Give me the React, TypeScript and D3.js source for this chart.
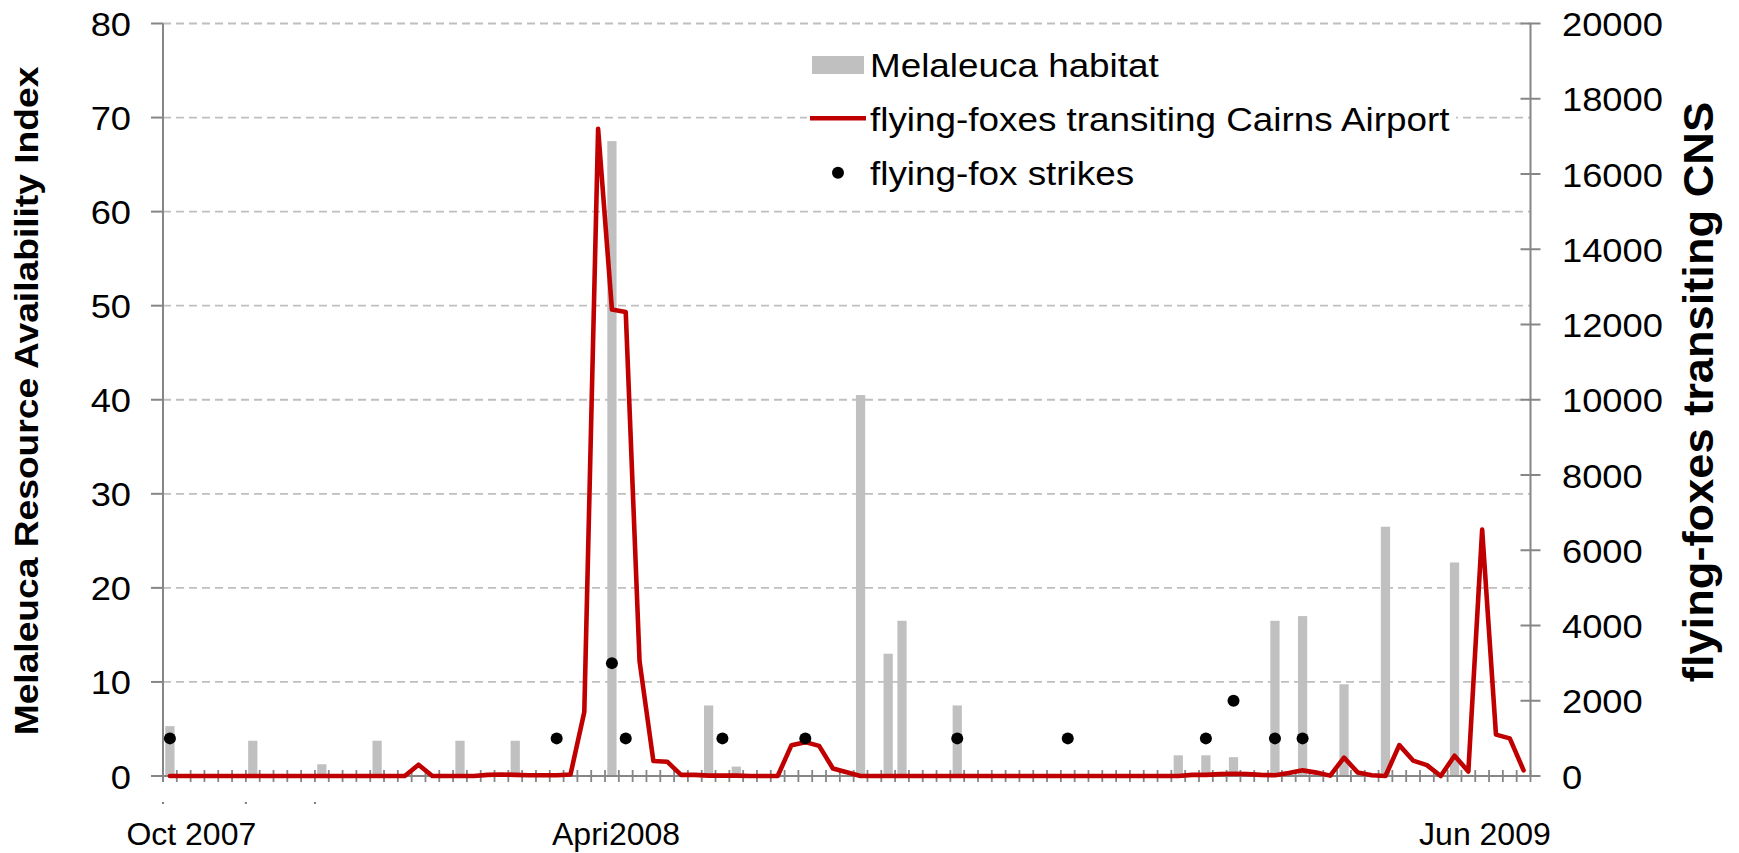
import React from 'react';
import * as d3 from 'd3';

const W = 1739;
const H = 853;

// category index of each survey period (Oct 2007 .. Jun 2009)
const periods = d3.range(99);

// Melaleuca Resource Availability Index (left axis) – bars
const habitatIdx = [0, 6, 11, 15, 21, 25, 32, 39, 41, 50, 52, 53, 57, 73, 75, 77, 80, 82, 85, 88, 93];
const habitatVal = [5.3, 3.75, 1.25, 3.75, 3.75, 3.75, 67.5, 7.5, 1.0, 40.5, 13.0, 16.5, 7.5, 2.2, 2.2, 2.0, 16.5, 17.0, 9.75, 26.5, 22.7];

// flying-foxes transiting Cairns Airport (right axis) – line
const transiting = [
  0, 0, 0, 0, 0, 0, 0, 0, 0, 0,
  0, 0, 0, 0, 0, 0, 0, 0, 300, 0,
  0, 0, 0, 30, 40, 30, 20, 20, 20, 40,
  1700, 17200, 12400, 12330, 3050, 400, 380, 30, 30, 10,
  10, 10, 0, 0, 0, 820, 900, 800, 200, 100,
  0, 0, 0, 0, 0, 0, 0, 0, 0, 0,
  0, 0, 0, 0, 0, 0, 0, 0, 0, 0,
  0, 0, 0, 0, 30, 30, 50, 60, 50, 30,
  20, 80, 150, 90, 10, 490, 90, 20, 0, 820,
  410, 290, 0, 540, 120, 6550, 1100, 1000, 150,
];

// flying-fox strikes (plotted on right axis scale)
const strikeIdx = [0, 28, 32, 33, 40, 46, 57, 65, 75, 77, 80, 82];
const strikeVal = [1000, 1000, 3000, 1000, 1000, 1000, 1000, 1000, 1000, 2000, 1000, 1000];

const leftTicks = [0, 10, 20, 30, 40, 50, 60, 70, 80];
const rightTicks = [0, 2000, 4000, 6000, 8000, 10000, 12000, 14000, 16000, 18000, 20000];

const xLabels = ['Oct 2007', 'Apri2008', 'Jun 2009'];
const xLabelPos = [2.05, 32.8, 95.7];
const stubMarks = [0, 6, 11];

const legendLabels = ['Melaleuca habitat', 'flying-foxes transiting Cairns Airport', 'flying-fox strikes'];

const FONT = 'Liberation Sans, Arial, Helvetica, sans-serif';
const AXIS = '#868686';
const GRID = '#BFBFBF';
const BAR = '#C0C0C0';
const RED = '#C00000';

function SText(props: any) {
  const { x, y, sx = 1, rotate = 0, anchor = 'start', size, weight = 'normal', children } = props;
  return (
    <text
      transform={`translate(${x},${y}) rotate(${rotate}) scale(${sx},1)`}
      textAnchor={anchor}
      fontSize={size}
      fontWeight={weight}
      fontFamily={FONT}
      fill="#000"
    >
      {children}
    </text>
  );
}

export default function App() {
  const left = 163;
  const right = 1530.5;
  const top = 23.5;
  const bottom = 776;

  const x = d3.scaleBand<number>().domain(periods).range([left, right]).padding(0);
  const xb = d3.scaleLinear().domain([0, periods.length]).range([left, right]);
  const yL = d3.scaleLinear().domain([0, 80]).range([bottom, top]);
  const yR = d3.scaleLinear().domain([0, 20000]).range([bottom, top]);
  const bw = x.bandwidth();
  const barW = bw * 0.67;
  const cx = (i: number) => (x(i) as number) + bw / 2;

  const line = d3
    .line<number>()
    .x((_, i) => cx(i))
    .y((d) => yR(d));

  const boundaries = d3.range(periods.length + 1);

  return (
    <svg width={W} height={H} style={{ position: 'absolute', left: 0, top: 0, background: '#fff' }}>
      <rect x={0} y={0} width={W} height={H} fill="#fff" />

      {/* gridlines */}
      {leftTicks.filter((t) => t > 0).map((t) => (
        <line key={'g' + t} x1={left} x2={right} y1={yL(t)} y2={yL(t)} stroke={GRID} strokeWidth={1.8} strokeDasharray="8,5" />
      ))}

      {/* legend background */}
      <rect x={807} y={32} width={649} height={168} fill="#fff" />

      {/* bars */}
      {habitatIdx.map((idx, k) => (
        <rect key={'b' + k} x={cx(idx) - barW / 2} y={yL(habitatVal[k])} width={barW} height={yL(0) - yL(habitatVal[k])} fill={BAR} />
      ))}

      {/* x axis */}
      <line x1={left} x2={right} y1={bottom} y2={bottom} stroke={AXIS} strokeWidth={2} />
      {boundaries.map((b) => (
        <line key={'xt' + b} x1={xb(b)} x2={xb(b)} y1={bottom - 6} y2={bottom + 6} stroke={AXIS} strokeWidth={1.8} />
      ))}
      {stubMarks.map((b) => (
        <line key={'sm' + b} x1={xb(b) - 1} x2={xb(b) + 1} y1={803} y2={803} stroke="#555" strokeWidth={1.5} />
      ))}

      {/* left axis */}
      <line x1={left} x2={left} y1={top} y2={bottom + 6} stroke={AXIS} strokeWidth={2} />
      {leftTicks.map((t) => (
        <line key={'lt' + t} x1={left - 12} x2={left} y1={yL(t)} y2={yL(t)} stroke={AXIS} strokeWidth={2} />
      ))}
      {leftTicks.map((t) => (
        <SText key={'ll' + t} x={131} y={yL(t) + 12.5} sx={1.1} anchor="end" size={33}>
          {d3.format('d')(t)}
        </SText>
      ))}

      {/* right axis */}
      <line x1={right} x2={right} y1={top} y2={bottom} stroke={AXIS} strokeWidth={2} />
      {rightTicks.map((t) => (
        <line key={'rt' + t} x1={right - 10} x2={right + 10} y1={yR(t)} y2={yR(t)} stroke={AXIS} strokeWidth={2} />
      ))}
      {rightTicks.map((t) => (
        <SText key={'rl' + t} x={1562} y={yR(t) + 12.5} sx={1.1} anchor="start" size={33}>
          {d3.format('d')(t)}
        </SText>
      ))}

      {/* axis titles */}
      <SText x={37.5} y={401} rotate={-90} sx={1.11} anchor="middle" size={33.5} weight="bold">
        Melaleuca Resource Availability Index
      </SText>
      <SText x={1713} y={392} rotate={-90} sx={1.064} anchor="middle" size={42.5} weight="bold">
        flying-foxes transiting CNS
      </SText>

      {/* x labels */}
      {xLabels.map((l, k) => (
        <SText key={'xl' + k} x={xb(xLabelPos[k])} y={845} anchor="middle" size={32}>
          {l}
        </SText>
      ))}

      {/* line */}
      <path d={line(transiting) || ''} fill="none" stroke={RED} strokeWidth={4.6} strokeLinejoin="round" strokeLinecap="round" />

      {/* strikes */}
      {strikeIdx.map((idx, k) => (
        <circle key={'s' + k} cx={cx(idx)} cy={yR(strikeVal[k])} r={6} fill="#000" />
      ))}

      {/* legend */}
      <rect x={812} y={56} width={52} height={18} fill={BAR} />
      <SText x={870} y={77.3} sx={1.1} size={33.5}>{legendLabels[0]}</SText>
      <line x1={810} x2={866} y1={118.3} y2={118.3} stroke={RED} strokeWidth={4.6} />
      <SText x={870} y={131} sx={1.1} size={33.5}>{legendLabels[1]}</SText>
      <circle cx={838} cy={172.7} r={6} fill="#000" />
      <SText x={870} y={185} sx={1.1} size={33.5}>{legendLabels[2]}</SText>
    </svg>
  );
}
